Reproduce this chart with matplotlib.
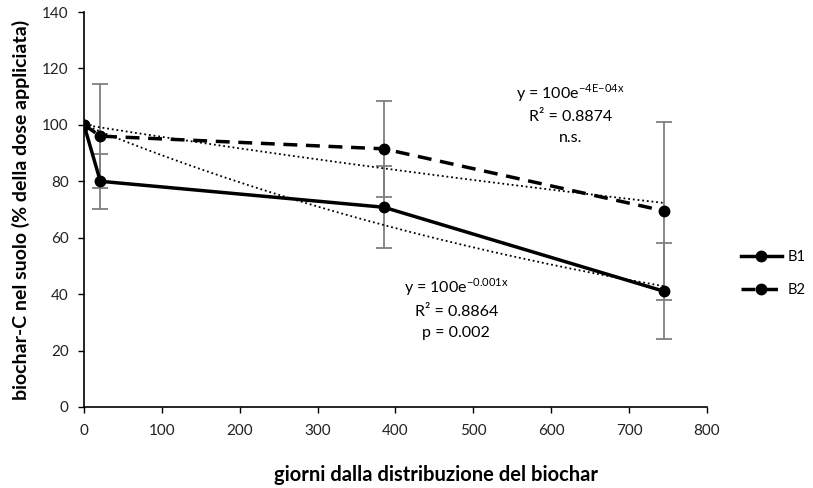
import matplotlib.pyplot as plt
import numpy as np

plt.rcParams['font.family'] = ['Lato', 'DejaVu Sans']

days = np.array([0, 21, 385, 745])
b1 = np.array([100, 80, 70.8, 41])
b1_err = np.array([0, 9.7, 14.5, 17])
b2 = np.array([100, 96, 91.5, 69.5])
b2_err = np.array([0, 18.5, 17, 31.5])


def fit_k(x, y):
    # exponential fit with intercept fixed at 100
    return -np.sum(x * np.log(y / 100)) / np.sum(x ** 2)


fig = plt.figure(figsize=(8.13, 4.88), dpi=100)
ax = fig.add_axes([0.1033, 0.166, 0.7663, 0.8094])

xt = np.linspace(0, days[-1], 200)
for y in (b1, b2):
    k = fit_k(days, y)
    ax.plot(xt, 100 * np.exp(-k * xt), color='black', lw=1.3, ls=(0, (1, 1.6)), zorder=2)

ax.errorbar(days, b1, yerr=b1_err, fmt='none', ecolor='#7f7f7f', elinewidth=1.3,
            capsize=6, capthick=1.3, zorder=1)
ax.errorbar(days, b2, yerr=b2_err, fmt='none', ecolor='#7f7f7f', elinewidth=1.3,
            capsize=6, capthick=1.3, zorder=1)

ax.plot(days, b1, color='black', lw=2.5, marker='o', ms=7.5, label='B1', zorder=3)
ax.plot(days, b2, color='black', lw=2.5, ls=(0, (4, 2.5)), marker='o', ms=7.5,
        label='B2', zorder=3)

ax.set_xlim(0, 800)
ax.set_ylim(0, 140)
ax.set_xticks(np.arange(0, 801, 100))
ax.set_yticks(np.arange(0, 141, 20))
ax.tick_params(labelsize=11, length=4, width=1, direction='out',
               labelcolor='#222222')
ax.tick_params(axis='y', pad=7)
ax.tick_params(axis='x', pad=8)
for s in ('top', 'right'):
    ax.spines[s].set_visible(False)
for s in ('left', 'bottom'):
    ax.spines[s].set_linewidth(1.2)

fig.text(0.536, 0.027, 'giorni dalla distribuzione del biochar', fontsize=14.5,
         fontweight='bold', ha='center', va='center')
ax.set_ylabel('biochar-C nel suolo (% della dose appliciata)', fontsize=14,
              fontweight='bold', labelpad=9)

ax.text(625, 104, 'y = 100e$^{\\mathregular{{-}4E{-}04x}}$\nR² = 0.8874\nn.s.',
        ha='center', va='center', fontsize=11.5, linespacing=1.6)
ax.text(478, 35, 'y = 100e$^{\\mathregular{{-}0.001x}}$\nR² = 0.8864\np = 0.002',
        ha='center', va='center', fontsize=11.5, linespacing=1.6)

ax.legend(loc='center left', bbox_to_anchor=(1.045, 0.337), frameon=False,
          fontsize=10.5, handlelength=2.8, handletextpad=0.4, borderaxespad=0,
          labelspacing=1.3)

fig.savefig('out.png', dpi=100)
